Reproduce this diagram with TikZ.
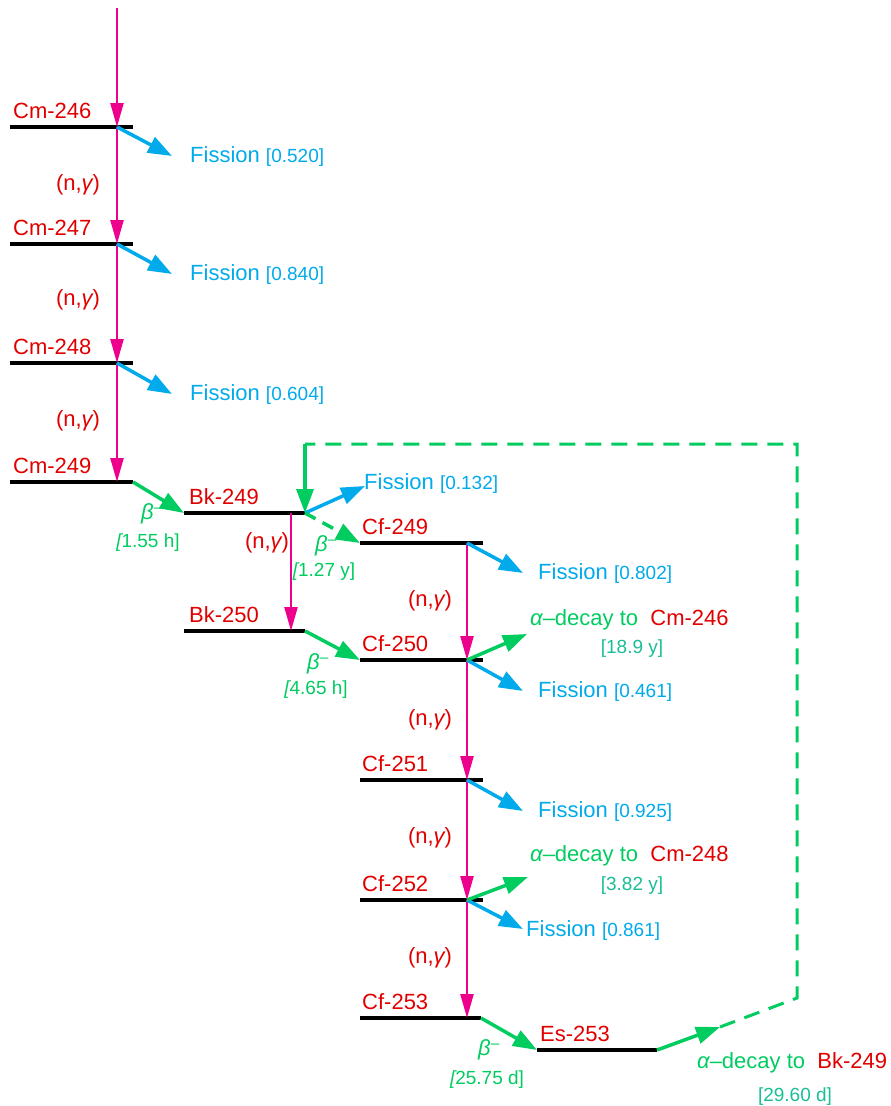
\documentclass[tikz,border=0pt]{standalone}
\usepackage{fontspec}
\setmainfont{Liberation Sans}
\usetikzlibrary{arrows.meta}

\definecolor{isored}{RGB}{225,0,0}
\definecolor{captpink}{RGB}{236,0,140}
\definecolor{fisblue}{RGB}{0,170,235}
\definecolor{betagreen}{RGB}{0,204,96}
\definecolor{halfteal}{RGB}{25,190,150}

\newcommand\bigtxt{\fontsize{22}{26}\selectfont}
\newcommand\smalltxt{\fontsize{19}{22}\selectfont}
\newcommand\ngam{(n,{\itshape γ})}
\newcommand\bminus{{\itshape β}\textsuperscript{–}}
\newcommand\adecay[1]{{\itshape α}–decay to\ \ {\color{isored}#1}}

\tikzset{
  level/.style={line width=4.5pt},
  capt/.style={draw=captpink, line width=2.3pt, -{Triangle[length=24pt,width=13pt]}},
  fis/.style={draw=fisblue, line width=3.5pt, -{Triangle[length=24pt,width=17pt]}},
  dec/.style={draw=betagreen, line width=3.5pt, -{Triangle[length=24pt,width=17pt]}},
  loopline/.style={draw=betagreen, line width=3pt, dash pattern=on 16pt off 10pt},
  iso/.style={text=isored, font=\bigtxt, inner sep=0pt, anchor=base west},
  ngl/.style={text=isored, font=\bigtxt, inner sep=0pt},
  fistext/.style={text=fisblue, font=\bigtxt, inner sep=0pt, anchor=base west},
  alphatext/.style={text=betagreen, font=\bigtxt, inner sep=0pt, anchor=base west},
  betalbl/.style={text=betagreen, font=\bigtxt, inner sep=0pt},
  halflife/.style={text=betagreen, font=\smalltxt, inner sep=0pt},
  alphahalf/.style={text=halfteal, font=\smalltxt, inner sep=0pt, anchor=base},
}

\begin{document}
\begin{tikzpicture}[x=1pt,y=-1pt]
  \useasboundingbox (0,0) rectangle (891,1106);

  % level points
  \coordinate (top) at (117,8);
  \coordinate (cm246L) at (10,127);  \coordinate (cm246) at (117,127); \coordinate (cm246R) at (133,127);
  \coordinate (cm247L) at (10,244);  \coordinate (cm247) at (117,244); \coordinate (cm247R) at (133,244);
  \coordinate (cm248L) at (10,363);  \coordinate (cm248) at (117,363); \coordinate (cm248R) at (133,363);
  \coordinate (cm249L) at (10,482);  \coordinate (cm249) at (117,482); \coordinate (cm249R) at (133,482);
  \coordinate (bk249L) at (184,513); \coordinate (bk249) at (291,513); \coordinate (bk249R) at (305,513);
  \coordinate (bk250L) at (184,631); \coordinate (bk250) at (291,631); \coordinate (bk250R) at (305,631);
  \coordinate (cf249L) at (360,543); \coordinate (cf249) at (467,543); \coordinate (cf249R) at (483,543);
  \coordinate (cf250L) at (360,660); \coordinate (cf250) at (467,660); \coordinate (cf250R) at (483,660);
  \coordinate (cf251L) at (360,780); \coordinate (cf251) at (467,780); \coordinate (cf251R) at (483,780);
  \coordinate (cf252L) at (360,900); \coordinate (cf252) at (467,900); \coordinate (cf252R) at (483,900);
  \coordinate (cf253L) at (360,1018); \coordinate (cf253) at (467,1018); \coordinate (cf253R) at (481,1018);
  \coordinate (es253L) at (537,1050); \coordinate (es253R) at (657,1050);
  \coordinate (esA) at (720,1027);
  \coordinate (loopBR) at (797,998);
  \coordinate (loopTR) at (797,444);
  \coordinate (loopTL) at (305,444);

  % bars
  \draw[level] (cm246L) -- (cm246R);
  \draw[level] (cm247L) -- (cm247R);
  \draw[level] (cm248L) -- (cm248R);
  \draw[level] (cm249L) -- (cm249R);
  \draw[level] (bk249L) -- (bk249R);
  \draw[level] (bk250L) -- (bk250R);
  \draw[level] (cf249L) -- (cf249R);
  \draw[level] (cf250L) -- (cf250R);
  \draw[level] (cf251L) -- (cf251R);
  \draw[level] (cf252L) -- (cf252R);
  \draw[level] (cf253L) -- (cf253R);
  \draw[level] (es253L) -- (es253R);

  % isotope names
  \node[iso] (tcm246) at (13,118) {Cm-246};
  \node[iso] (tcm247) at (13,235) {Cm-247};
  \node[iso] (tcm248) at (13,354) {Cm-248};
  \node[iso] (tcm249) at (13,473) {Cm-249};
  \node[iso] (tbk249) at (189,504) {Bk-249};
  \node[iso] (tbk250) at (189,622) {Bk-250};
  \node[iso] (tcf249) at (362,534) {Cf-249};
  \node[iso] (tcf250) at (362,651) {Cf-250};
  \node[iso] (tcf251) at (362,771) {Cf-251};
  \node[iso] (tcf252) at (362,891) {Cf-252};
  \node[iso] (tcf253) at (362,1009) {Cf-253};
  \node[iso] (tes253) at (540,1041) {Es-253};

  % neutron captures
  \draw[capt] (top) -- (cm246);
  \draw[capt] (cm246) -- (cm247);
  \draw[capt] (cm247) -- (cm248);
  \draw[capt] (cm248) -- (cm249);
  \draw[capt] (bk249) -- (bk250);
  \draw[capt] (cf249) -- (cf250);
  \draw[capt] (cf250) -- (cf251);
  \draw[capt] (cf251) -- (cf252);
  \draw[capt] (cf252) -- (cf253);
  \node[ngl] (ng1) at (78,185) {\ngam};
  \node[ngl] (ng2) at (78,300) {\ngam};
  \node[ngl] (ng3) at (78,421) {\ngam};
  \node[ngl] (ng4) at (267,543) {\ngam};
  \node[ngl] (ng5) at (430,601) {\ngam};
  \node[ngl] (ng6) at (430,720) {\ngam};
  \node[ngl] (ng7) at (430,838) {\ngam};
  \node[ngl] (ng8) at (430,958) {\ngam};

  % fission
  \node[fistext] (fcm246) at (190,162) {Fission {\smalltxt[0.520]}};
  \node[fistext] (fcm247) at (190,280) {Fission {\smalltxt[0.840]}};
  \node[fistext] (fcm248) at (190,400) {Fission {\smalltxt[0.604]}};
  \node[fistext] (fbk249) at (364,489) {Fission {\smalltxt[0.132]}};
  \node[fistext] (fcf249) at (538,579) {Fission {\smalltxt[0.802]}};
  \node[fistext] (fcf250) at (538,697) {Fission {\smalltxt[0.461]}};
  \node[fistext] (fcf251) at (538,817) {Fission {\smalltxt[0.925]}};
  \node[fistext] (fcf252) at (526,936) {Fission {\smalltxt[0.861]}};
  \draw[fis] (cm246) -- ([xshift=-18pt,yshift=6pt]fcm246.base west);
  \draw[fis] (cm247) -- ([xshift=-18pt,yshift=6pt]fcm247.base west);
  \draw[fis] (cm248) -- ([xshift=-18pt,yshift=6pt]fcm248.base west);
  \draw[fis] (bk249R) -- ([xshift=1pt,yshift=3pt]fbk249.base west);
  \draw[fis] (cf249) -- ([xshift=-15pt,yshift=6pt]fcf249.base west);
  \draw[fis] (cf250) -- ([xshift=-15pt,yshift=6pt]fcf250.base west);
  \draw[fis] (cf251) -- ([xshift=-15pt,yshift=6pt]fcf251.base west);
  \draw[fis] (cf252) -- ([xshift=-3pt,yshift=7pt]fcf252.base west);

  % beta decays
  \draw[dec] (cm249R) -- (bk249L);
  \draw[dec, dash pattern=on 12pt off 8pt] (bk249R) -- (cf249L);
  \draw[dec] (bk250R) -- (cf250L);
  \draw[dec] (cf253R) -- (es253L);
  \node[betalbl] (b1) at (152,514) {\bminus};
  \node[halflife] (h1) at (148,543) {{\itshape[}1.55 h]};
  \node[betalbl] (b2) at (326,546) {\bminus};
  \node[halflife] (h2) at (324,572) {{\itshape[}1.27 y]};
  \node[betalbl] (b3) at (318,664) {\bminus};
  \node[halflife] (h3) at (316,690) {{\itshape[}4.65 h]};
  \node[betalbl] (b4) at (489,1050) {\bminus};
  \node[halflife] (h4) at (487,1080) {{\itshape[}25.75 d]};

  % alpha decays
  \node[alphatext] (acf250) at (530,625) {\adecay{Cm-246}};
  \node[alphahalf] (hcf250) at (632,653) {[18.9 y]};
  \node[alphatext] (acf252) at (530,861) {\adecay{Cm-248}};
  \node[alphahalf] (hcf252) at (632,890) {[3.82 y]};
  \node[alphatext] (aes253) at (697,1068) {\adecay{Bk-249}};
  \node[alphahalf] (hes253) at (795,1101) {[29.60 d]};
  \draw[dec] (cf250) -- ([xshift=-3pt,yshift=-9pt]acf250.base west);
  \draw[dec] (cf252) -- ([xshift=-2pt,yshift=-16pt]acf252.base west);
  \draw[dec] (es253R) -- (esA);
  \draw[loopline] (esA) -- (loopBR) -- (loopTR) -- (loopTL);
  \draw[dec] (loopTL) -- (bk249R);
\end{tikzpicture}
\end{document}
